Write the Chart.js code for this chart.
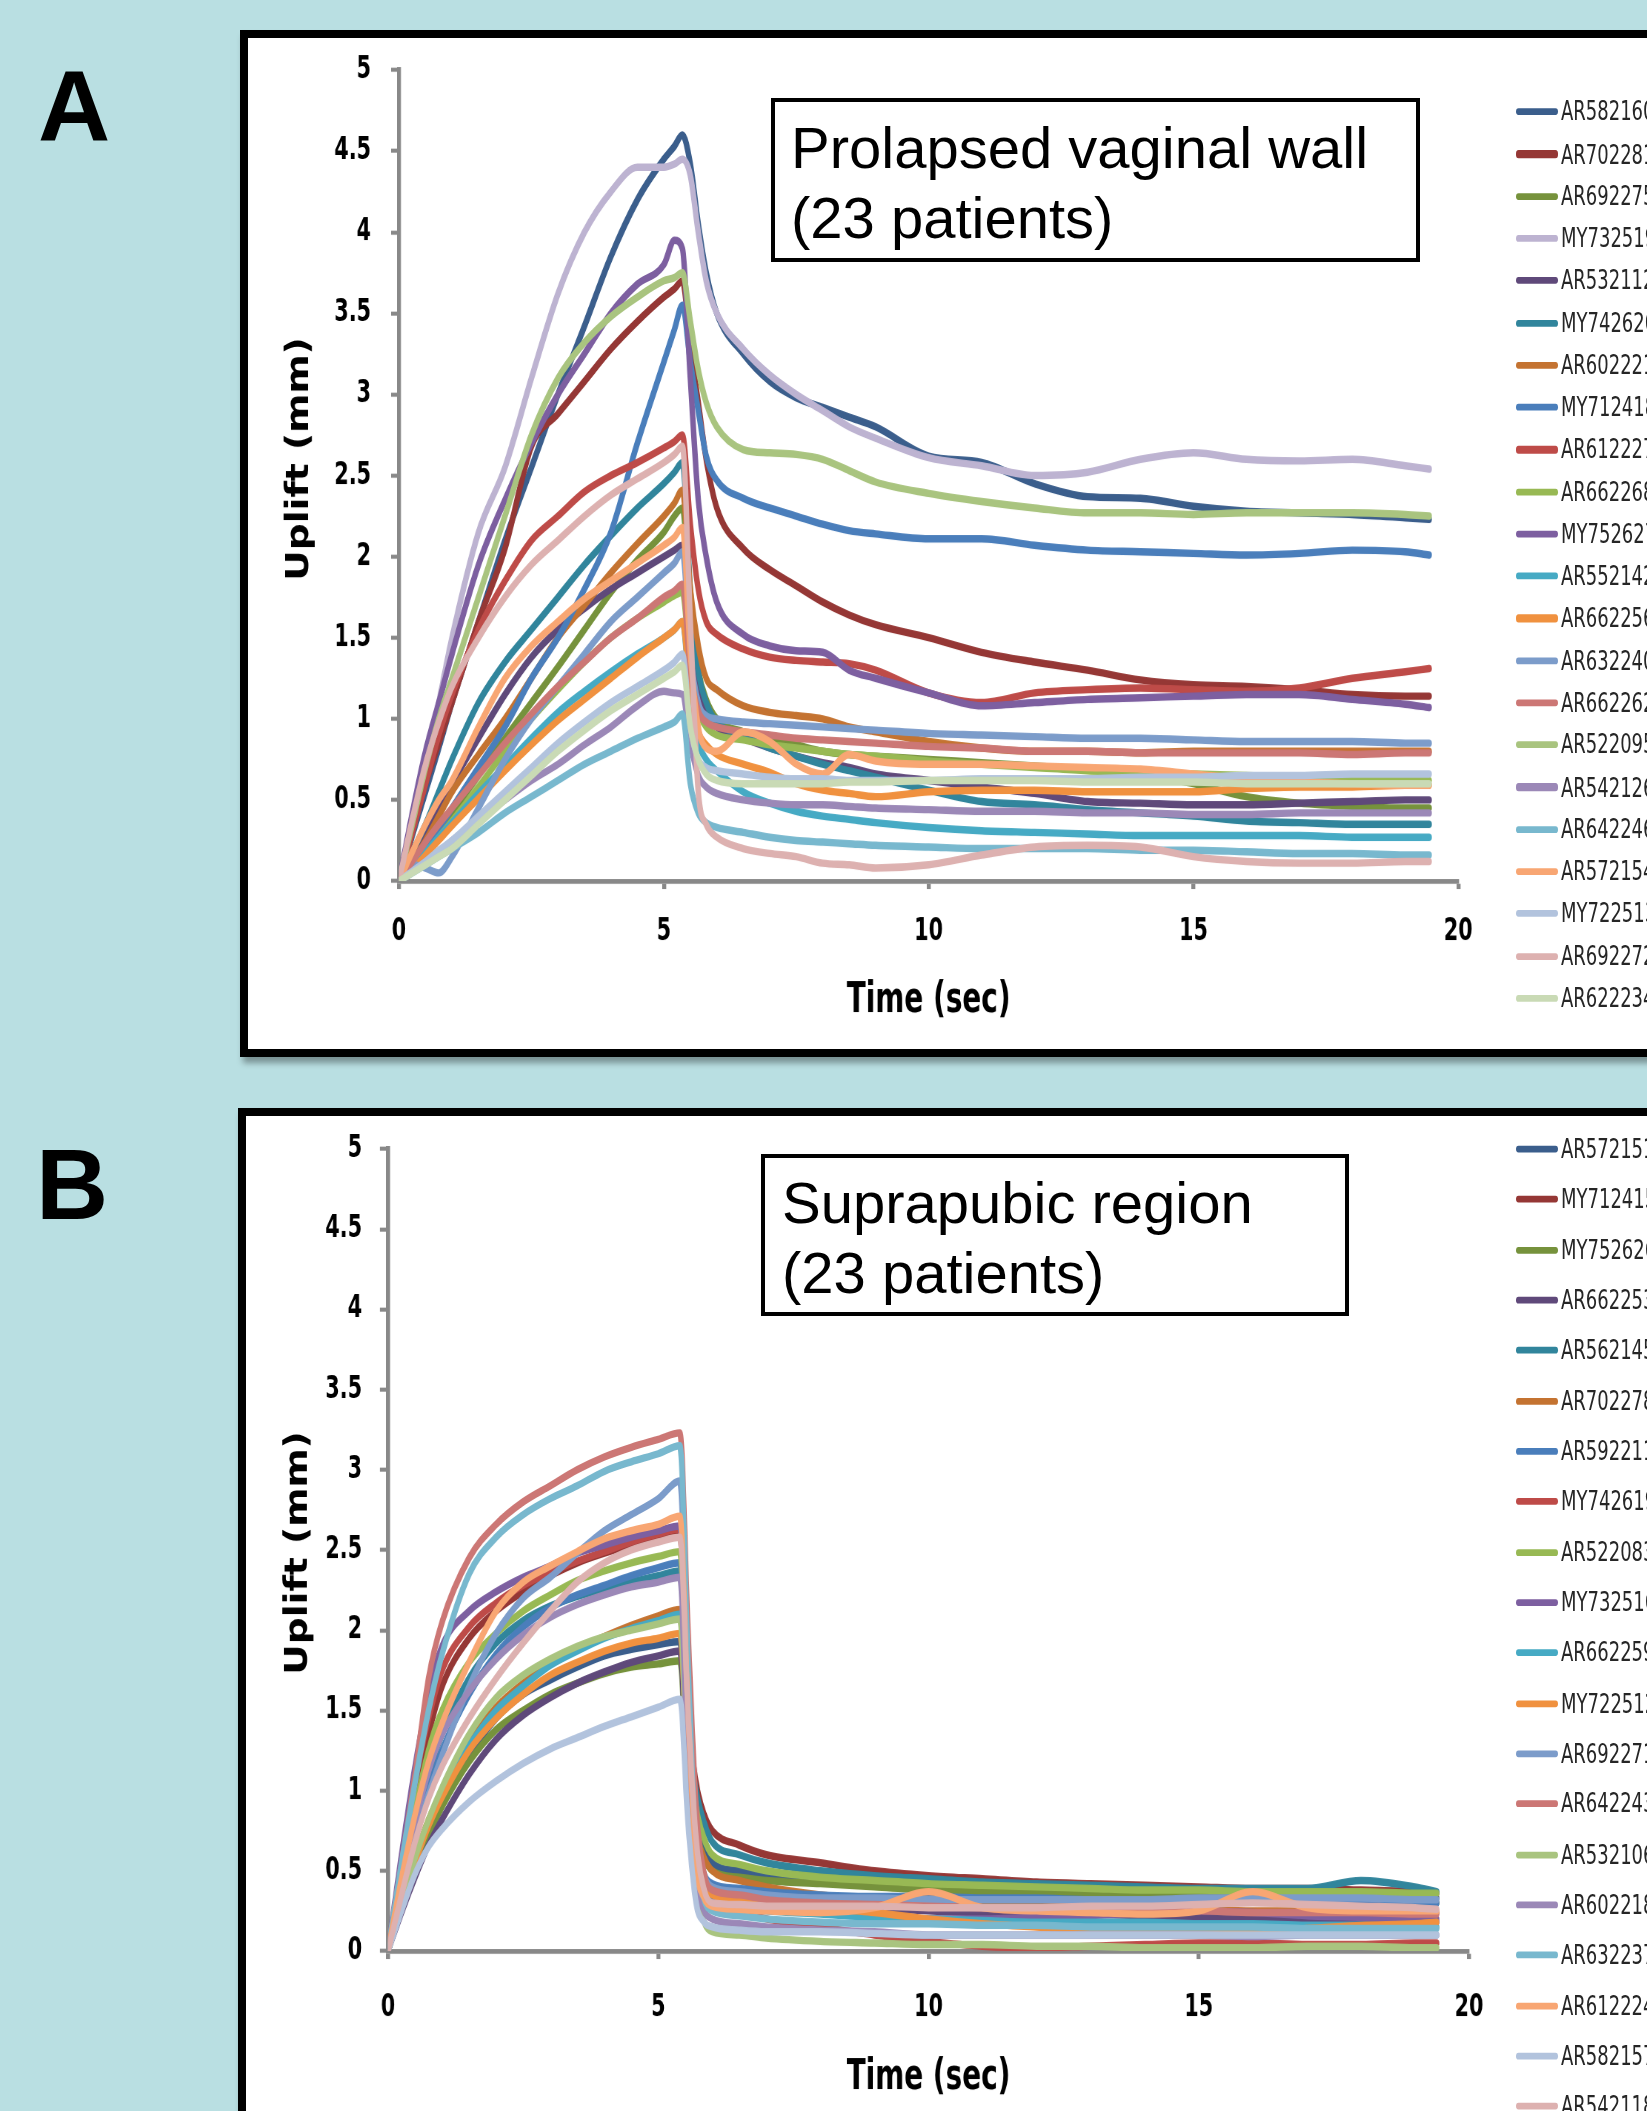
<!DOCTYPE html>
<html>
<head>
<meta charset="utf-8">
<title>Uplift over time</title>
<script src="https://cdn.jsdelivr.net/npm/chart.js@4.4.1/dist/chart.umd.min.js"></script>
<style>
  html, body { margin: 0; padding: 0; }
  body { width: 1647px; height: 2111px; overflow: hidden; position: relative; background: #b9dfe2; font-family: 'Liberation Sans', Arial, sans-serif; }
  .letter { position: absolute; font-weight: bold; font-size: 100px; line-height: 100px; color: #000; }
  .panel { position: absolute; background: #fff; border: 8px solid #000; box-shadow: 3px 6px 6px rgba(0,0,0,0.35); }
  .plot { position: absolute; transform-origin: 0 0; }
  .plot canvas { position: absolute; left: 0; top: 0; }
  .titlebox { position: absolute; box-sizing: border-box; border: 4px solid #000; background: #fff; font-size: 58px; line-height: 70px; color: #000; white-space: nowrap; }
  .swatch { position: absolute; }
  .name { position: absolute; white-space: nowrap; color: #262626; font-family: 'Liberation Sans Narrow', 'Arial Narrow', 'DejaVu Sans Condensed', sans-serif; }
</style>
</head>
<body>
<div class="letter" style="left:38px;top:56px;">A</div>
<div class="letter" style="left:36px;top:1134px;">B</div>
<div class="panel" style="left:240px;top:30px;width:1460px;height:1011px;"></div>
<div class="panel" style="left:238px;top:1108px;width:1460px;height:1100px;"></div>
<div class="plot" id="plotA"><canvas id="chartA"></canvas></div>
<div class="plot" id="plotB"><canvas id="chartB"></canvas></div>
<div class="titlebox" style="left:771px;top:98px;width:649px;height:164px;padding:11px 0 0 16px;">Prolapsed vaginal wall<br>(23 patients)</div>
<div class="titlebox" style="left:761px;top:1154px;width:588px;height:162px;padding:10px 0 0 17px;">Suprapubic region<br>(23 patients)</div>
<script>
// ---- axis ticks and titles ----
const xTicks = [0, 5, 10, 15, 20];
const yTicks = [0, 0.5, 1, 1.5, 2, 2.5, 3, 3.5, 4, 4.5, 5];
const xTitle = 'Time (sec)';
const yTitle = 'Uplift (mm)';

// ---- panel A: prolapsed vaginal wall ----
const timeA = [0, 0.25, 0.5, 0.75, 1, 1.5, 2, 2.5, 3, 3.5, 4, 4.5, 5, 5.2, 5.35, 5.5, 5.65, 5.8, 6, 6.5, 7, 7.5, 8, 8.5, 9, 10, 11, 12, 13, 14, 15, 16, 17, 18, 19, 19.45];
const namesA = ['AR582160', 'AR702281', 'AR692275', 'MY732519', 'AR532112', 'MY742620', 'AR602221', 'MY712418', 'AR612227', 'AR662268', 'MY752627', 'AR552142', 'AR662256', 'AR632240', 'AR662262', 'AR522095', 'AR542126', 'AR642246', 'AR572154', 'MY722513', 'AR692272', 'AR622234'];
const colorsA = ['#3b5e8c', '#953735', '#76923c', '#bdb3d1', '#5f497a', '#31859c', '#c47331', '#4a7ebb', '#be4b48', '#98b954', '#7d5fa0', '#46aac4', '#f0913f', '#7c9cca', '#cc7775', '#a9c47f', '#9b88b7', '#78b8ce', '#f8a673', '#b2c3dd', '#ddb1b0', '#c9dab5'];

const a_AR582160 = [0, 0.28, 0.55, 0.82, 1.1, 1.6, 2.1, 2.55, 3.0, 3.42, 3.85, 4.2, 4.45, 4.53, 4.6, 4.42, 4.05, 3.75, 3.5, 3.25, 3.08, 2.98, 2.92, 2.86, 2.8, 2.62, 2.58, 2.45, 2.37, 2.36, 2.31, 2.28, 2.27, 2.26, 2.24, 2.23];
const a_AR702281 = [0, 0.3, 0.6, 0.85, 1.1, 1.6, 2.05, 2.68, 2.88, 3.08, 3.28, 3.45, 3.6, 3.65, 3.7, 3.3, 2.95, 2.6, 2.3, 2.05, 1.92, 1.82, 1.72, 1.64, 1.58, 1.5, 1.41, 1.35, 1.3, 1.24, 1.21, 1.2, 1.18, 1.15, 1.14, 1.14];
const a_AR692275 = [0, 0.08, 0.18, 0.3, 0.42, 0.65, 0.88, 1.1, 1.32, 1.55, 1.78, 1.98, 2.15, 2.25, 2.3, 1.7, 1.3, 1.12, 1.0, 0.92, 0.88, 0.84, 0.8, 0.78, 0.77, 0.75, 0.73, 0.71, 0.69, 0.66, 0.6, 0.52, 0.48, 0.46, 0.45, 0.45];
const a_MY732519 = [0, 0.35, 0.7, 1.1, 1.5, 2.15, 2.55, 3.1, 3.62, 4.0, 4.25, 4.4, 4.4, 4.42, 4.45, 4.35, 4.0, 3.7, 3.5, 3.28, 3.12, 3.0, 2.9, 2.8, 2.73, 2.61, 2.56, 2.5, 2.52, 2.6, 2.64, 2.6, 2.59, 2.6, 2.56, 2.54];
const a_AR532112 = [0, 0.12, 0.28, 0.45, 0.6, 0.88, 1.15, 1.38, 1.55, 1.68, 1.8, 1.9, 2.0, 2.04, 2.07, 1.6, 1.25, 1.05, 0.95, 0.88, 0.82, 0.77, 0.73, 0.7, 0.66, 0.62, 0.58, 0.54, 0.49, 0.48, 0.47, 0.47, 0.48, 0.49, 0.5, 0.5];
const a_MY742620 = [0, 0.18, 0.35, 0.55, 0.75, 1.1, 1.35, 1.55, 1.75, 1.95, 2.13, 2.3, 2.45, 2.52, 2.58, 1.8, 1.3, 1.1, 0.98, 0.9, 0.82, 0.77, 0.72, 0.68, 0.64, 0.56, 0.49, 0.47, 0.44, 0.42, 0.4, 0.37, 0.36, 0.35, 0.35, 0.35];
const a_AR602221 = [0, 0.12, 0.25, 0.4, 0.55, 0.78, 1.0, 1.25, 1.5, 1.7, 1.9, 2.08, 2.25, 2.33, 2.41, 1.8, 1.45, 1.25, 1.18, 1.08, 1.04, 1.02, 1.0, 0.95, 0.92, 0.86, 0.82, 0.8, 0.8, 0.79, 0.8, 0.8, 0.8, 0.8, 0.8, 0.8];
const a_MY712418 = [0, 0.1, 0.2, 0.32, 0.45, 0.7, 0.95, 1.25, 1.5, 1.8, 2.15, 2.7, 3.2, 3.4, 3.55, 3.2, 2.9, 2.62, 2.47, 2.36, 2.3, 2.25, 2.2, 2.16, 2.14, 2.11, 2.11, 2.07, 2.04, 2.03, 2.02, 2.01, 2.02, 2.04, 2.03, 2.01];
const a_AR612227 = [0, 0.3, 0.6, 0.9, 1.15, 1.55, 1.85, 2.1, 2.25, 2.4, 2.5, 2.58, 2.67, 2.71, 2.75, 2.2, 1.8, 1.6, 1.52, 1.43, 1.38, 1.36, 1.35, 1.34, 1.3, 1.16, 1.1, 1.16, 1.18, 1.19, 1.18, 1.17, 1.19, 1.25, 1.29, 1.31];
const a_AR662268 = [0, 0.08, 0.17, 0.27, 0.37, 0.58, 0.8, 1.0, 1.18, 1.35, 1.5, 1.62, 1.72, 1.76, 1.78, 1.3, 1.05, 0.95, 0.9, 0.87, 0.84, 0.82, 0.8, 0.78, 0.77, 0.74, 0.72, 0.7, 0.68, 0.67, 0.66, 0.65, 0.64, 0.63, 0.62, 0.62];
const a_MY752627 = [0, 0.42, 0.8, 1.1, 1.4, 1.95, 2.35, 2.7, 3.0, 3.25, 3.5, 3.68, 3.8, 3.95, 3.9, 3.1, 2.35, 2.0, 1.72, 1.52, 1.45, 1.42, 1.41, 1.3, 1.25, 1.16, 1.08, 1.1, 1.12, 1.13, 1.14, 1.15, 1.15, 1.12, 1.09, 1.07];
const a_AR552142 = [0, 0.09, 0.18, 0.27, 0.36, 0.54, 0.71, 0.88, 1.04, 1.17, 1.29, 1.4, 1.5, 1.55, 1.6, 1.1, 0.85, 0.75, 0.68, 0.55, 0.48, 0.43, 0.4, 0.38, 0.36, 0.33, 0.31, 0.3, 0.29, 0.28, 0.28, 0.28, 0.28, 0.27, 0.27, 0.27];
const a_AR662256 = [0, 0.07, 0.16, 0.25, 0.34, 0.51, 0.68, 0.84, 0.99, 1.12, 1.25, 1.38, 1.5, 1.55, 1.6, 1.15, 0.92, 0.84, 0.78, 0.72, 0.67, 0.6, 0.56, 0.54, 0.52, 0.55, 0.56, 0.56, 0.55, 0.55, 0.55, 0.57, 0.58, 0.58, 0.59, 0.59];
const a_AR632240 = [0, 0.1, 0.08, 0.05, 0.15, 0.45, 0.75, 1.0, 1.2, 1.4, 1.6, 1.75, 1.9, 1.96, 2.03, 1.4, 1.1, 1.02, 1.0, 0.98, 0.97, 0.96, 0.95, 0.94, 0.93, 0.91, 0.9, 0.89, 0.88, 0.88, 0.87, 0.86, 0.86, 0.86, 0.85, 0.85];
const a_AR662262 = [0, 0.12, 0.24, 0.35, 0.45, 0.65, 0.85, 1.03, 1.2, 1.35, 1.5, 1.62, 1.75, 1.79, 1.83, 1.3, 1.05, 0.98, 0.95, 0.92, 0.9, 0.88, 0.87, 0.86, 0.85, 0.83, 0.82, 0.8, 0.8, 0.79, 0.79, 0.79, 0.79, 0.78, 0.79, 0.79];
const a_AR522095 = [0, 0.35, 0.7, 1.0, 1.25, 1.75, 2.25, 2.75, 3.1, 3.32, 3.48, 3.6, 3.7, 3.72, 3.75, 3.45, 3.15, 2.95, 2.8, 2.66, 2.64, 2.63, 2.6, 2.53, 2.46, 2.39, 2.34, 2.3, 2.27, 2.27, 2.26, 2.27, 2.27, 2.27, 2.26, 2.25];
const a_AR542126 = [0, 0.06, 0.12, 0.18, 0.25, 0.38, 0.5, 0.62, 0.72, 0.84, 0.95, 1.08, 1.17, 1.16, 1.15, 0.85, 0.65, 0.58, 0.54, 0.5, 0.48, 0.47, 0.47, 0.46, 0.45, 0.44, 0.43, 0.43, 0.42, 0.42, 0.41, 0.41, 0.42, 0.42, 0.42, 0.42];
const a_AR642246 = [0, 0.05, 0.1, 0.15, 0.2, 0.3, 0.42, 0.52, 0.62, 0.72, 0.8, 0.88, 0.95, 0.98, 1.03, 0.6, 0.42, 0.36, 0.33, 0.3, 0.27, 0.25, 0.24, 0.23, 0.22, 0.21, 0.2, 0.2, 0.2, 0.19, 0.19, 0.18, 0.17, 0.17, 0.16, 0.16];
const a_AR572154 = [0, 0.18, 0.35, 0.5, 0.62, 0.95, 1.25, 1.45, 1.6, 1.74, 1.85, 1.96, 2.07, 2.12, 2.18, 1.4, 0.95, 0.82, 0.8, 0.92, 0.86, 0.72, 0.66, 0.78, 0.74, 0.72, 0.72, 0.71, 0.7, 0.69, 0.66, 0.63, 0.61, 0.6, 0.59, 0.59];
const a_MY722513 = [0, 0.06, 0.12, 0.19, 0.25, 0.4, 0.55, 0.7, 0.85, 0.98, 1.1, 1.2, 1.3, 1.35, 1.4, 0.95, 0.75, 0.7, 0.68, 0.66, 0.64, 0.63, 0.63, 0.62, 0.62, 0.62, 0.63, 0.63, 0.63, 0.64, 0.64, 0.65, 0.65, 0.66, 0.66, 0.66];
const a_AR692272 = [0, 0.38, 0.72, 0.98, 1.2, 1.5, 1.75, 1.95, 2.1, 2.25, 2.38, 2.48, 2.58, 2.63, 2.68, 1.6, 0.55, 0.35, 0.27, 0.2, 0.17, 0.15, 0.11, 0.1, 0.08, 0.1, 0.16, 0.21, 0.22, 0.21, 0.15, 0.12, 0.11, 0.11, 0.12, 0.12];
const a_AR622234 = [0, 0.05, 0.1, 0.15, 0.2, 0.35, 0.5, 0.65, 0.8, 0.93, 1.05, 1.15, 1.25, 1.29, 1.33, 0.95, 0.75, 0.66, 0.62, 0.6, 0.6, 0.6, 0.6, 0.61, 0.61, 0.62, 0.62, 0.62, 0.61, 0.61, 0.61, 0.6, 0.6, 0.6, 0.6, 0.6];
const valuesA = [a_AR582160, a_AR702281, a_AR692275, a_MY732519, a_AR532112, a_MY742620, a_AR602221, a_MY712418, a_AR612227, a_AR662268, a_MY752627, a_AR552142, a_AR662256, a_AR632240, a_AR662262, a_AR522095, a_AR542126, a_AR642246, a_AR572154, a_MY722513, a_AR692272, a_AR622234];

// ---- panel B: suprapubic region ----
const timeB = [0, 0.25, 0.5, 0.75, 1, 1.5, 2, 2.5, 3, 3.5, 4, 4.5, 5, 5.4, 5.55, 5.7, 5.85, 6, 6.5, 7, 8, 9, 10, 11, 12, 13, 14, 15, 16, 17, 18, 19, 19.4];
const namesB = ['AR572151', 'MY712415', 'MY752626', 'AR662253', 'AR562145', 'AR702278', 'AR592211', 'MY742619', 'AR522083', 'MY732516', 'AR662259', 'MY722512', 'AR692271', 'AR642243', 'AR532106', 'AR602218', 'AR632237', 'AR612224', 'AR582157', 'AR542118'];
const colorsB = ['#3b5e8c', '#953735', '#76923c', '#5f497a', '#31859c', '#c47331', '#4a7ebb', '#be4b48', '#98b954', '#7d5fa0', '#46aac4', '#f0913f', '#7c9cca', '#cc7775', '#a9c47f', '#9b88b7', '#78b8ce', '#f8a673', '#b2c3dd', '#ddb1b0'];

const b_AR572151 = [0, 0.28, 0.52, 0.75, 0.92, 1.22, 1.45, 1.6, 1.69, 1.77, 1.84, 1.88, 1.91, 1.93, 1.1, 0.85, 0.65, 0.55, 0.5, 0.47, 0.45, 0.44, 0.42, 0.41, 0.4, 0.39, 0.38, 0.37, 0.36, 0.36, 0.35, 0.34, 0.33];
const b_MY712415 = [0, 0.5, 0.95, 1.35, 1.65, 1.95, 2.12, 2.24, 2.34, 2.42, 2.48, 2.53, 2.57, 2.6, 1.5, 1.05, 0.85, 0.75, 0.66, 0.6, 0.55, 0.5, 0.47, 0.45, 0.43, 0.42, 0.41, 0.4, 0.39, 0.39, 0.38, 0.37, 0.36];
const b_MY752626 = [0, 0.27, 0.5, 0.72, 0.9, 1.18, 1.38, 1.5, 1.6, 1.67, 1.73, 1.77, 1.79, 1.81, 1.0, 0.75, 0.58, 0.5, 0.46, 0.44, 0.42, 0.4, 0.38, 0.37, 0.36, 0.35, 0.35, 0.34, 0.33, 0.33, 0.32, 0.31, 0.3];
const b_AR662253 = [0, 0.24, 0.46, 0.66, 0.82, 1.1, 1.32, 1.47, 1.58, 1.67, 1.74, 1.8, 1.84, 1.87, 1.0, 0.6, 0.42, 0.35, 0.32, 0.3, 0.28, 0.27, 0.25, 0.24, 0.24, 0.23, 0.22, 0.21, 0.2, 0.2, 0.2, 0.19, 0.18];
const b_AR562145 = [0, 0.4, 0.78, 1.1, 1.35, 1.7, 1.92, 2.06, 2.15, 2.21, 2.26, 2.3, 2.34, 2.37, 1.4, 1.0, 0.8, 0.68, 0.6, 0.55, 0.5, 0.47, 0.45, 0.43, 0.42, 0.41, 0.4, 0.39, 0.39, 0.39, 0.44, 0.4, 0.37];
const b_AR702278 = [0, 0.3, 0.58, 0.82, 1.0, 1.3, 1.52, 1.67, 1.79, 1.88, 1.96, 2.03, 2.09, 2.13, 1.2, 0.75, 0.58, 0.5, 0.44, 0.4, 0.35, 0.32, 0.3, 0.29, 0.28, 0.28, 0.27, 0.26, 0.25, 0.25, 0.25, 0.24, 0.24];
const b_AR592211 = [0, 0.35, 0.7, 1.0, 1.25, 1.6, 1.85, 2.02, 2.14, 2.22, 2.28, 2.34, 2.39, 2.42, 1.3, 0.7, 0.48, 0.42, 0.39, 0.37, 0.35, 0.34, 0.34, 0.33, 0.33, 0.32, 0.32, 0.32, 0.31, 0.31, 0.31, 0.3, 0.3];
const b_MY742619 = [0, 0.55, 1.05, 1.45, 1.75, 2.02, 2.17, 2.28, 2.36, 2.43, 2.49, 2.55, 2.6, 2.63, 1.4, 0.6, 0.38, 0.3, 0.25, 0.2, 0.15, 0.1, 0.06, 0.03, 0.02, 0.03, 0.04, 0.05, 0.05, 0.04, 0.04, 0.05, 0.05];
const b_AR522083 = [0, 0.45, 0.88, 1.25, 1.5, 1.8, 1.98, 2.12, 2.22, 2.31, 2.37, 2.42, 2.46, 2.49, 1.4, 0.9, 0.7, 0.6, 0.54, 0.5, 0.46, 0.44, 0.42, 0.41, 0.4, 0.39, 0.38, 0.38, 0.37, 0.37, 0.37, 0.36, 0.36];
const b_MY732516 = [0, 0.6, 1.15, 1.6, 1.9, 2.12, 2.24, 2.33, 2.4, 2.48, 2.53, 2.58, 2.62, 2.65, 1.5, 0.6, 0.38, 0.32, 0.28, 0.26, 0.24, 0.22, 0.2, 0.2, 0.21, 0.22, 0.24, 0.25, 0.24, 0.22, 0.21, 0.2, 0.2];
const b_AR662259 = [0, 0.28, 0.55, 0.8, 0.98, 1.28, 1.5, 1.65, 1.78, 1.87, 1.95, 2.01, 2.06, 2.1, 1.1, 0.5, 0.35, 0.3, 0.27, 0.25, 0.23, 0.21, 0.2, 0.19, 0.18, 0.18, 0.18, 0.17, 0.17, 0.16, 0.16, 0.15, 0.15];
const b_MY722512 = [0, 0.28, 0.55, 0.78, 0.96, 1.25, 1.45, 1.6, 1.72, 1.8, 1.87, 1.92, 1.95, 1.98, 1.1, 0.6, 0.42, 0.35, 0.32, 0.3, 0.27, 0.24, 0.2, 0.17, 0.15, 0.13, 0.12, 0.12, 0.13, 0.14, 0.16, 0.17, 0.18];
const b_AR692271 = [0, 0.35, 0.7, 0.98, 1.22, 1.65, 1.98, 2.2, 2.33, 2.48, 2.62, 2.72, 2.82, 2.93, 1.6, 0.7, 0.47, 0.4, 0.37, 0.35, 0.33, 0.33, 0.32, 0.32, 0.32, 0.32, 0.32, 0.33, 0.33, 0.33, 0.33, 0.32, 0.32];
const b_AR642243 = [0, 0.55, 1.1, 1.7, 2.05, 2.45, 2.66, 2.8, 2.9, 3.0, 3.08, 3.14, 3.19, 3.23, 2.0, 0.9, 0.48, 0.38, 0.35, 0.32, 0.3, 0.29, 0.28, 0.27, 0.26, 0.26, 0.25, 0.25, 0.24, 0.24, 0.24, 0.23, 0.23];
const b_AR532106 = [0, 0.3, 0.58, 0.82, 1.02, 1.35, 1.58, 1.72, 1.82, 1.9, 1.96, 2.0, 2.04, 2.07, 1.0, 0.4, 0.18, 0.12, 0.1, 0.08, 0.06, 0.05, 0.04, 0.04, 0.03, 0.03, 0.02, 0.02, 0.02, 0.03, 0.03, 0.02, 0.02];
const b_AR602218 = [0, 0.42, 0.8, 1.12, 1.35, 1.62, 1.82, 1.97, 2.08, 2.16, 2.22, 2.27, 2.3, 2.33, 1.1, 0.45, 0.25, 0.2, 0.17, 0.15, 0.13, 0.12, 0.1, 0.1, 0.1, 0.1, 0.1, 0.1, 0.09, 0.1, 0.1, 0.1, 0.1];
const b_AR632237 = [0, 0.55, 1.05, 1.5, 1.85, 2.35, 2.58, 2.72, 2.82, 2.9, 2.99, 3.05, 3.1, 3.15, 1.8, 0.6, 0.32, 0.25, 0.22, 0.2, 0.18, 0.17, 0.17, 0.16, 0.16, 0.15, 0.15, 0.15, 0.15, 0.14, 0.14, 0.14, 0.14];
const b_AR612224 = [0, 0.45, 0.85, 1.18, 1.42, 1.8, 2.12, 2.3, 2.4, 2.49, 2.57, 2.62, 2.66, 2.71, 1.5, 0.55, 0.33, 0.28, 0.26, 0.25, 0.24, 0.27, 0.37, 0.27, 0.25, 0.24, 0.23, 0.25, 0.37, 0.27, 0.25, 0.25, 0.25];
const b_AR582157 = [0, 0.25, 0.48, 0.65, 0.76, 0.93, 1.06, 1.17, 1.26, 1.33, 1.4, 1.46, 1.52, 1.57, 0.8, 0.3, 0.18, 0.15, 0.13, 0.12, 0.12, 0.11, 0.1, 0.1, 0.1, 0.1, 0.1, 0.1, 0.1, 0.1, 0.1, 0.1, 0.1];
const b_AR542118 = [0, 0.35, 0.68, 0.95, 1.15, 1.45, 1.7, 1.92, 2.12, 2.3, 2.42, 2.5, 2.55, 2.58, 1.5, 0.7, 0.38, 0.3, 0.29, 0.28, 0.28, 0.28, 0.27, 0.27, 0.27, 0.28, 0.28, 0.29, 0.3, 0.29, 0.28, 0.27, 0.26];
const valuesB = [b_AR572151, b_MY712415, b_MY752626, b_AR662253, b_AR562145, b_AR702278, b_AR592211, b_MY742619, b_AR522083, b_MY732516, b_AR662259, b_MY722512, b_AR692271, b_AR642243, b_AR532106, b_AR602218, b_AR632237, b_AR612224, b_AR582157, b_AR542118];

// ---- drawing ----
const STRETCH = 1.35;           // the plot graphics are drawn tall and narrow
const NARROW = "'Liberation Sans Narrow', 'Arial Narrow', 'DejaVu Sans Condensed', sans-serif";
const AXIS_GREY = '#888888';

function buildPanel(p) {
  const g = p.geom;
  const H = Math.round(g.h / STRETCH);
  const s = g.h / H;
  const wrap = document.getElementById(p.wrapId);
  Object.assign(wrap.style, { left: g.left + 'px', top: g.top + 'px', width: g.w + 'px', height: H + 'px', transform: `scaleY(${s})` });
  const canvas = document.getElementById(p.canvasId);
  canvas.width = g.w;
  canvas.height = H;

  const tickFont = { family: NARROW, size: 23, weight: 'bold' };
  const titleFont = { family: NARROW, size: 31, weight: 'bold' };
  const plotTop = (g.yTop - g.top) / s;
  const plotBottom = (g.yZero - g.top) / s;
  const xTickLen = 8 / s;
  const xTickPad = (g.xLabelY - g.yZero) / s - xTickLen - tickFont.size * 0.6;
  const xTitlePad = (g.top + g.h - g.xTitleY) / s - titleFont.size * 0.6;
  const yTickPad = (g.axisX - g.yLabelRight) - 8;

  // rotated caption of the value axis, centred at a fixed point beside the axis
  const yCaption = {
    id: 'yCaption',
    afterDraw(chart) {
      const ctx = chart.ctx;
      ctx.save();
      ctx.translate(g.yTitleX - g.left, (g.yTitleY - g.top) / s);
      ctx.rotate(-Math.PI / 2);
      ctx.font = `bold ${titleFont.size}px ${NARROW}`;
      ctx.fillStyle = '#000';
      ctx.textAlign = 'center';
      ctx.textBaseline = 'middle';
      ctx.fillText(yTitle, 0, 0);
      ctx.restore();
    }
  };

  const datasets = p.names.map((name, i) => ({
    label: name,
    data: p.time.map((t, j) => ({ x: t, y: p.values[i][j] })),
    borderColor: p.colors[i],
    backgroundColor: p.colors[i],
    borderWidth: 5.5,
    pointRadius: 0,
    pointHoverRadius: 0,
    fill: false,
    cubicInterpolationMode: 'monotone',
    borderCapStyle: 'round',
    borderJoinStyle: 'round',
    order: p.names.length - i
  }));

  new Chart(canvas, {
    type: 'line',
    data: { datasets },
    plugins: [yCaption],
    options: {
      responsive: false,
      animation: false,
      devicePixelRatio: s,
      events: [],
      layout: { autoPadding: false, padding: { top: plotTop, right: g.w - (g.axisRightX - g.left), bottom: 0, left: 0 } },
      plugins: { legend: { display: false }, tooltip: { enabled: false }, title: { display: false } },
      scales: {
        x: {
          type: 'linear', min: 0, max: 20,
          afterBuildTicks: sc => { sc.ticks = xTicks.map(v => ({ value: v })); },
          afterFit: sc => { sc.height = H - plotBottom; sc.paddingLeft = 0; sc.paddingRight = 0; },
          border: { display: true, color: AXIS_GREY, width: 3.5 },
          grid: { drawOnChartArea: false, drawTicks: true, tickLength: xTickLen, tickWidth: 4, tickColor: AXIS_GREY },
          ticks: { font: tickFont, color: '#000', padding: xTickPad, maxRotation: 0, autoSkip: false, callback: v => String(v) },
          title: { display: true, text: xTitle, font: titleFont, color: '#000', padding: { top: 0, bottom: xTitlePad } }
        },
        y: {
          type: 'linear', min: 0, max: 5,
          afterBuildTicks: sc => { sc.ticks = yTicks.map(v => ({ value: v })); },
          afterFit: sc => { sc.width = g.axisX - g.left; sc.paddingTop = 0; sc.paddingBottom = 0; },
          border: { display: true, color: AXIS_GREY, width: 4 },
          grid: { drawOnChartArea: false, drawTicks: true, tickLength: 8, tickWidth: 3, tickColor: AXIS_GREY },
          ticks: { font: tickFont, color: '#000', padding: yTickPad, autoSkip: false, callback: v => String(v) },
          title: { display: false }
        }
      }
    }
  });

  // series key at the right-hand side
  p.names.forEach((name, i) => {
    const cy = (g.keyFirst + i * g.keyStep - g.top) / s;
    const sw = document.createElement('div');
    sw.className = 'swatch';
    const th = 7 / s;
    Object.assign(sw.style, { left: (g.keyX - g.left) + 'px', top: (cy - th / 2) + 'px', width: '42px', height: th + 'px', borderRadius: (th / 2) + 'px', background: p.colors[i] });
    wrap.appendChild(sw);
    const tx = document.createElement('div');
    tx.className = 'name';
    tx.textContent = name;
    Object.assign(tx.style, { left: (g.keyX - g.left + 45) + 'px', top: (cy - 10.5) + 'px', fontSize: '20px', lineHeight: '21px' });
    wrap.appendChild(tx);
  });
}

buildPanel({
  wrapId: 'plotA', canvasId: 'chartA', time: timeA, names: namesA, colors: colorsA, values: valuesA,
  geom: { left: 248, top: 38, w: 1399, h: 1011, axisX: 399, axisRightX: 1458, yTop: 70, yZero: 881,
          xLabelY: 932, xTitleY: 1001, yTitleX: 300, yTitleY: 459, yLabelRight: 371, keyX: 1516, keyFirst: 112, keyStep: 42.2 }
});
buildPanel({
  wrapId: 'plotB', canvasId: 'chartB', time: timeB, names: namesB, colors: colorsB, values: valuesB,
  geom: { left: 246, top: 1116, w: 1401, h: 1011, axisX: 388, axisRightX: 1469, yTop: 1149, yZero: 1951,
          xLabelY: 2008, xTitleY: 2078, yTitleX: 299, yTitleY: 1553, yLabelRight: 362, keyX: 1516, keyFirst: 1149, keyStep: 50.4 }
});
</script>
</body>
</html>
